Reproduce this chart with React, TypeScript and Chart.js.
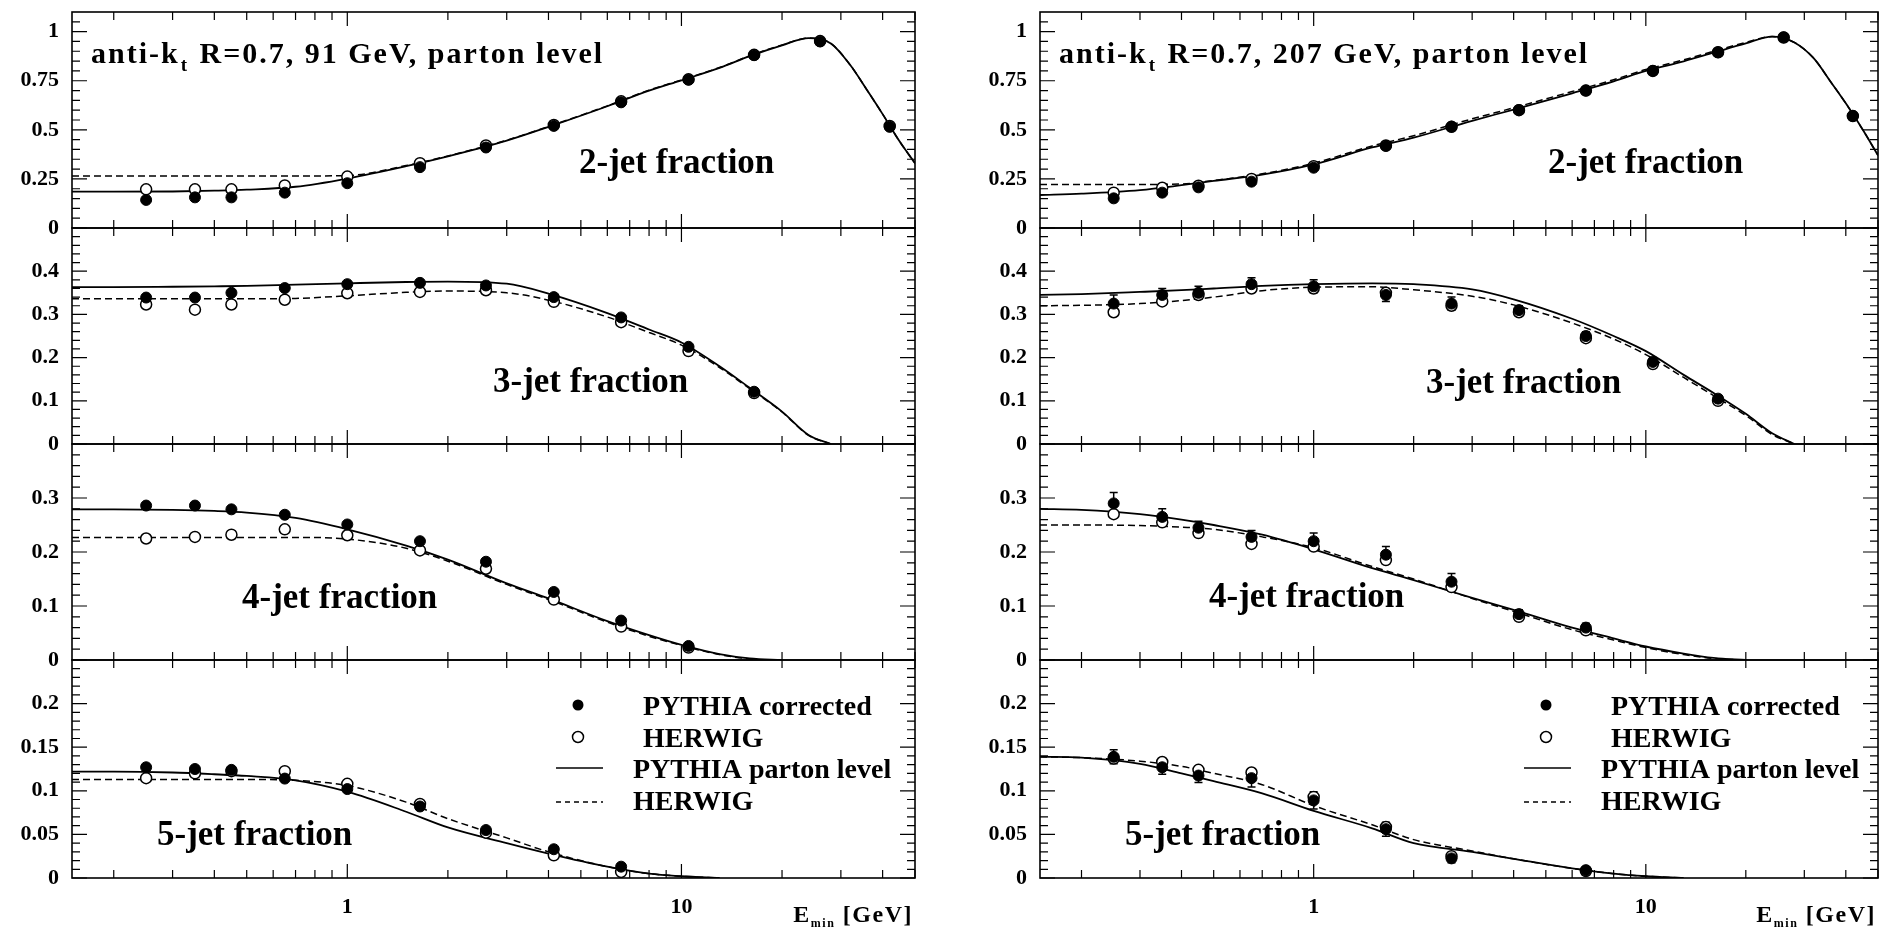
import React, { useEffect, useRef } from 'react';
import { Chart, registerables } from 'chart.js';

Chart.register(...registerables);

const SERIF = '"Liberation Serif", "DejaVu Serif", serif';

// ---------------- data ----------------
// E_min values of the data points (GeV)
const E_MIN = [0.25, 0.35, 0.45, 0.65, 1.0, 1.65, 2.6, 4.15, 6.6, 10.5, 16.5, 26, 42];
// E_min values at which the model curves are read
const CURVE_E = [0.15, 0.2, 0.3, 0.4, 0.5, 0.7, 1, 1.5, 2, 3, 4, 6, 8, 10, 13, 16, 20, 24, 28, 32, 36, 40, 45, 50];

// 91 GeV : points (PYTHIA corrected, HERWIG)
const P2_91 = [0.143, 0.156, 0.156, 0.18, 0.228, 0.31, 0.41, 0.52, 0.64, 0.755, 0.88, 0.95, 0.515];
const H2_91 = [0.197, 0.197, 0.197, 0.217, 0.262, 0.33, 0.42, 0.525, 0.645, 0.757, 0.882, 0.952, 0.52];
const P3_91 = [0.339, 0.339, 0.35, 0.361, 0.37, 0.373, 0.367, 0.34, 0.293, 0.225, 0.121];
const H3_91 = [0.323, 0.311, 0.323, 0.334, 0.349, 0.352, 0.356, 0.329, 0.282, 0.215, 0.118];
const P4_91 = [0.286, 0.286, 0.279, 0.269, 0.251, 0.22, 0.182, 0.126, 0.073, 0.026];
const H4_91 = [0.225, 0.228, 0.232, 0.242, 0.231, 0.203, 0.169, 0.112, 0.062, 0.023];
const P5_91 = [0.127, 0.125, 0.124, 0.114, 0.102, 0.082, 0.055, 0.033, 0.013];
const H5_91 = [0.1145, 0.12, 0.1225, 0.1225, 0.108, 0.085, 0.052, 0.026, 0.007];

// 91 GeV : curves (PYTHIA parton level, HERWIG) on CURVE_E
const L2P_91 = [0.185, 0.185, 0.186, 0.19, 0.195, 0.21, 0.252, 0.315, 0.365, 0.445, 0.515, 0.62, 0.7, 0.752, 0.815, 0.875, 0.93, 0.967, 0.94, 0.83, 0.7, 0.58, 0.44, 0.33];
const L2H_91 = [0.265, 0.265, 0.265, 0.265, 0.265, 0.265, 0.267, 0.318, 0.367, 0.447, 0.517, 0.622, 0.702, 0.754, 0.817, 0.877, 0.932, 0.967, 0.94, 0.83, 0.7, 0.58, 0.44, 0.33];
const L3P_91 = [0.363, 0.363, 0.364, 0.365, 0.366, 0.369, 0.372, 0.375, 0.376, 0.371, 0.348, 0.303, 0.265, 0.235, 0.18, 0.13, 0.075, 0.021, 0];
const L3H_91 = [0.336, 0.336, 0.336, 0.336, 0.336, 0.337, 0.343, 0.351, 0.354, 0.35, 0.333, 0.294, 0.258, 0.229, 0.177, 0.128, 0.074, 0.02, 0];
const L4P_91 = [0.279, 0.279, 0.278, 0.276, 0.273, 0.263, 0.242, 0.212, 0.186, 0.142, 0.114, 0.072, 0.046, 0.028, 0.011, 0.003, 0];
const L4H_91 = [0.227, 0.227, 0.227, 0.227, 0.227, 0.227, 0.224, 0.207, 0.183, 0.14, 0.112, 0.07, 0.044, 0.027, 0.01, 0.002, 0];
const L5P_91 = [0.122, 0.122, 0.121, 0.119, 0.117, 0.112, 0.099, 0.076, 0.058, 0.04, 0.028, 0.013, 0.005, 0.002, 0];
const L5H_91 = [0.113, 0.113, 0.113, 0.113, 0.113, 0.112, 0.106, 0.087, 0.068, 0.046, 0.03, 0.013, 0.005, 0.002, 0];

// 207 GeV : points
const P2_207 = [0.151, 0.18, 0.207, 0.236, 0.307, 0.418, 0.516, 0.601, 0.7, 0.8, 0.895, 0.971, 0.571];
const H2_207 = [0.18, 0.205, 0.215, 0.25, 0.315, 0.42, 0.515, 0.6, 0.7, 0.8, 0.895, 0.97, 0.57];
const P3_207 = [0.325, 0.345, 0.35, 0.37, 0.365, 0.345, 0.325, 0.31, 0.25, 0.19, 0.105];
const H3_207 = [0.305, 0.33, 0.345, 0.36, 0.36, 0.35, 0.32, 0.305, 0.245, 0.185, 0.1];
const P4_207 = [0.29, 0.265, 0.245, 0.228, 0.22, 0.195, 0.145, 0.085, 0.06];
const H4_207 = [0.27, 0.255, 0.235, 0.215, 0.21, 0.185, 0.135, 0.08, 0.055];
const P5_207 = [0.139, 0.127, 0.1175, 0.1145, 0.089, 0.056, 0.0225, null, 0.009];
const H5_207 = [0.137, 0.133, 0.124, 0.121, 0.093, 0.0585, 0.025, null, 0.008];

// 207 GeV : error bars of PYTHIA corrected points
const E2_207 = [0.01, 0.01, 0.01, 0.01, 0.01, 0.01, 0.01, 0.01, 0.01, 0.01, 0.01, 0.01, 0.01];
const E3_207 = [0.02, 0.015, 0.015, 0.015, 0.015, 0.015, 0.015, 0.01, 0.01, 0.01, 0.008];
const E4_207 = [0.02, 0.015, 0.012, 0.012, 0.015, 0.015, 0.015, 0.008, 0.008];
const E5_207 = [0.008, 0.008, 0.008, 0.01, 0.01, 0.008, 0.005, 0, 0.003];

// 207 GeV : curves
const L2P_207 = [0.168, 0.175, 0.193, 0.218, 0.24, 0.272, 0.324, 0.41, 0.46, 0.546, 0.603, 0.686, 0.747, 0.8, 0.849, 0.893, 0.94, 0.975, 0.945, 0.865, 0.745, 0.635, 0.5, 0.37];
const L2H_207 = [0.222, 0.222, 0.222, 0.224, 0.242, 0.276, 0.33, 0.418, 0.47, 0.556, 0.612, 0.695, 0.755, 0.807, 0.856, 0.9, 0.945, 0.975, 0.945, 0.865, 0.745, 0.635, 0.5, 0.37];
const L3P_207 = [0.345, 0.347, 0.352, 0.356, 0.36, 0.366, 0.37, 0.372, 0.37, 0.358, 0.335, 0.29, 0.25, 0.215, 0.16, 0.118, 0.07, 0.025, 0];
const L3H_207 = [0.32, 0.321, 0.325, 0.332, 0.34, 0.355, 0.363, 0.364, 0.357, 0.342, 0.322, 0.28, 0.243, 0.207, 0.154, 0.112, 0.066, 0.022, 0];
const L4P_207 = [0.28, 0.278, 0.27, 0.26, 0.25, 0.232, 0.205, 0.17, 0.148, 0.115, 0.093, 0.06, 0.04, 0.025, 0.012, 0.004, 0];
const L4H_207 = [0.25, 0.25, 0.249, 0.246, 0.242, 0.228, 0.208, 0.173, 0.15, 0.114, 0.09, 0.056, 0.037, 0.023, 0.01, 0.003, 0];
const L5P_207 = [0.139, 0.138, 0.131, 0.12, 0.111, 0.097, 0.077, 0.057, 0.04, 0.03, 0.022, 0.011, 0.005, 0.002, 0];
const L5H_207 = [0.139, 0.138, 0.134, 0.128, 0.12, 0.107, 0.083, 0.061, 0.044, 0.031, 0.022, 0.011, 0.005, 0.002, 0];

// ---------------- text / ticks ----------------
const TITLE_ENERGY = ['91 GeV', '207 GeV'];
const PANEL_LABELS = ['2-jet fraction', '3-jet fraction', '4-jet fraction', '5-jet fraction'];
const LEGEND_LABELS = ['PYTHIA corrected', 'HERWIG', 'PYTHIA parton level', 'HERWIG'];

const X_MIN = 0.15;
const X_MAX = 50;
const X_MAJOR = [1, 10];
const X_LABELS = ['1', '10'];
const X_MINOR = [0.2, 0.3, 0.4, 0.5, 0.6, 0.7, 0.8, 0.9, 2, 3, 4, 5, 6, 7, 8, 9, 20, 30, 40, 50];

const Y_MAX = [1.1, 0.5, 0.4, 0.25];
const Y_MAJOR = [
  [0, 0.25, 0.5, 0.75, 1],
  [0, 0.1, 0.2, 0.3, 0.4],
  [0, 0.1, 0.2, 0.3],
  [0, 0.05, 0.1, 0.15, 0.2],
];
const Y_LABELS = [
  ['0', '0.25', '0.5', '0.75', '1'],
  ['0', '0.1', '0.2', '0.3', '0.4'],
  ['0', '0.1', '0.2', '0.3'],
  ['0', '0.05', '0.1', '0.15', '0.2'],
];
const Y_MINOR_STEP = [0.05, 0.02, 0.02, 0.01];

// table assembled from the arrays above
const TABLE: any[][] = [
  [
    { pts: P2_91, her: H2_91, lp: L2P_91, lh: L2H_91, err: null },
    { pts: P3_91, her: H3_91, lp: L3P_91, lh: L3H_91, err: null },
    { pts: P4_91, her: H4_91, lp: L4P_91, lh: L4H_91, err: null },
    { pts: P5_91, her: H5_91, lp: L5P_91, lh: L5H_91, err: null },
  ],
  [
    { pts: P2_207, her: H2_207, lp: L2P_207, lh: L2H_207, err: E2_207 },
    { pts: P3_207, her: H3_207, lp: L3P_207, lh: L3H_207, err: E3_207 },
    { pts: P4_207, her: H4_207, lp: L4P_207, lh: L4H_207, err: E4_207 },
    { pts: P5_207, her: H5_207, lp: L5P_207, lh: L5H_207, err: E5_207 },
  ],
];

// ---------------- layout ----------------
const W = 1885;
const H = 930;
const COL_LEFT = [72, 1040];
const COL_RIGHT = [915, 1880];
const CANVAS_LEFT = [0, 958];
const CANVAS_RIGHT = [930, 1885];
const ROW_TOP = [12, 228, 444, 660];
const ROW_BOTTOM = [228, 444, 660, 878];
const LABEL_POS = [
  [[507, 161], [421, 164], [170, 164], [85, 185]],
  [[508, 161], [386, 165], [169, 163], [85, 185]],
];

function makeDecor(col: number, row: number, err: number[] | null) {
  return {
    id: 'decor',
    beforeDatasetsDraw(chart: any) {
      if (!err) return;
      const { ctx } = chart;
      const xs = chart.scales.x;
      const ys = chart.scales.y;
      const data = chart.data.datasets[0].data;
      ctx.save();
      ctx.strokeStyle = '#000';
      ctx.lineWidth = 1.5;
      data.forEach((p: any, i: number) => {
        const e = err[i] || 0;
        if (p.y == null || !e) return;
        const px = xs.getPixelForValue(p.x);
        const y1 = ys.getPixelForValue(p.y - e);
        const y2 = ys.getPixelForValue(p.y + e);
        ctx.beginPath();
        ctx.moveTo(px, y1);
        ctx.lineTo(px, y2);
        ctx.moveTo(px - 4, y1);
        ctx.lineTo(px + 4, y1);
        ctx.moveTo(px - 4, y2);
        ctx.lineTo(px + 4, y2);
        ctx.stroke();
      });
      ctx.restore();
    },
    afterDraw(chart: any) {
      const { ctx, chartArea: a } = chart;
      const xs = chart.scales.x;
      const ys = chart.scales.y;
      ctx.save();
      ctx.strokeStyle = '#000';
      ctx.fillStyle = '#000';
      ctx.lineWidth = 1.6;
      ctx.strokeRect(a.left, a.top, a.right - a.left, a.bottom - a.top);
      ctx.lineWidth = 1.2;
      ctx.beginPath();
      // x ticks (top and bottom, inward)
      const xt = (v: number, len: number) => {
        const px = xs.getPixelForValue(v);
        ctx.moveTo(px, a.bottom);
        ctx.lineTo(px, a.bottom - len);
        ctx.moveTo(px, a.top);
        ctx.lineTo(px, a.top + len);
      };
      X_MINOR.forEach((v) => xt(v, 8));
      X_MAJOR.forEach((v) => xt(v, 14));
      // y ticks (left and right, inward)
      const yt = (v: number, len: number) => {
        const py = ys.getPixelForValue(v);
        ctx.moveTo(a.left, py);
        ctx.lineTo(a.left + len, py);
        ctx.moveTo(a.right, py);
        ctx.lineTo(a.right - len, py);
      };
      const step = Y_MINOR_STEP[row];
      const n = Math.round(Y_MAX[row] / step);
      for (let k = 1; k < n; k++) yt(k * step, 8);
      Y_MAJOR[row].forEach((v) => yt(v, 15));
      ctx.stroke();

      ctx.textBaseline = 'alphabetic';
      ctx.textAlign = 'left';
      // title
      if (row === 0) {
        const big = `bold 30px ${SERIF}`;
        let x = a.left + 19;
        const y = a.top + 51;
        (ctx as any).letterSpacing = '2px';
        ctx.font = big;
        ctx.fillText('anti-k', x, y);
        x += ctx.measureText('anti-k').width;
        ctx.font = `bold 19px ${SERIF}`;
        ctx.fillText('t', x + 1, y + 8);
        x += ctx.measureText('t').width + 2;
        ctx.font = big;
        ctx.fillText(` R=0.7, ${TITLE_ENERGY[col]}, parton level`, x, y);
        (ctx as any).letterSpacing = '0px';
      }
      // panel label
      ctx.font = `bold 35px ${SERIF}`;
      const [lx, ly] = LABEL_POS[col][row];
      ctx.fillText(PANEL_LABELS[row], a.left + lx, a.top + ly);

      if (row === 3) {
        // legend
        const L = a.left;
        const T = a.top;
        const ds = chart.data.datasets;
        ctx.beginPath();
        ctx.arc(L + 506, T + 45, 5.5, 0, Math.PI * 2);
        ctx.fill();
        ctx.beginPath();
        ctx.lineWidth = 1.5;
        ctx.arc(L + 506, T + 77, 5.5, 0, Math.PI * 2);
        ctx.stroke();
        ctx.beginPath();
        ctx.lineWidth = 1.5;
        ctx.moveTo(L + 484, T + 108);
        ctx.lineTo(L + 531, T + 108);
        ctx.stroke();
        ctx.setLineDash([5, 4]);
        ctx.beginPath();
        ctx.moveTo(L + 484, T + 142);
        ctx.lineTo(L + 531, T + 142);
        ctx.stroke();
        ctx.setLineDash([]);
        ctx.font = `bold 28px ${SERIF}`;
        ctx.fillText(ds[0].label, L + 571, T + 55);
        ctx.fillText(ds[1].label, L + 571, T + 87);
        ctx.fillText(ds[2].label, L + 561, T + 118);
        ctx.fillText(ds[3].label, L + 561, T + 150);

        // x axis title  E_min [GeV]
        (ctx as any).letterSpacing = '1.5px';
        const f1 = `bold 24px ${SERIF}`;
        const f2 = `bold 12px ${SERIF}`;
        ctx.font = f1;
        const wE = ctx.measureText('E').width;
        const wG = ctx.measureText(' [GeV]').width;
        ctx.font = f2;
        const wM = ctx.measureText('min').width;
        let x = a.right - 2 - (wE + wM + wG);
        const yb = a.bottom + 44;
        ctx.font = f1;
        ctx.fillText('E', x, yb);
        x += wE;
        ctx.font = f2;
        ctx.fillText('min', x, yb + 5);
        x += wM;
        ctx.font = f1;
        ctx.fillText(' [GeV]', x, yb);
        (ctx as any).letterSpacing = '0px';
      }
      ctx.restore();
    },
  };
}

function Panel({ col, row }: { col: number; row: number }) {
  const ref = useRef<HTMLCanvasElement | null>(null);
  const isBottom = row === 3;
  const cLeft = CANVAS_LEFT[col];
  const cRight = CANVAS_RIGHT[col];
  const cTop = Math.max(0, ROW_TOP[row] - 20);
  const cBottom = isBottom ? H : ROW_BOTTOM[row] + 20;
  const cw = cRight - cLeft;
  const ch = cBottom - cTop;

  useEffect(() => {
    const canvas = ref.current;
    if (!canvas) return;
    const t = TABLE[col][row];
    const toXY = (arr: (number | null)[], xs: number[]) => arr.map((y, i) => ({ x: xs[i], y }));
    const datasets: any[] = [
      {
        label: LEGEND_LABELS[0],
        data: toXY(t.pts, E_MIN),
        showLine: false,
        pointRadius: 5.5,
        pointBackgroundColor: '#000',
        pointBorderColor: '#000',
        pointBorderWidth: 1,
        order: 0,
      },
      {
        label: LEGEND_LABELS[1],
        data: toXY(t.her, E_MIN),
        showLine: false,
        pointRadius: 5.5,
        pointBackgroundColor: '#fff',
        pointBorderColor: '#000',
        pointBorderWidth: 1.5,
        order: 1,
      },
      {
        label: LEGEND_LABELS[2],
        data: toXY(t.lp, CURVE_E),
        borderColor: '#000',
        borderWidth: 1.8,
        pointRadius: 0,
        cubicInterpolationMode: 'monotone',
        order: 2,
      },
      {
        label: LEGEND_LABELS[3],
        data: toXY(t.lh, CURVE_E),
        borderColor: '#000',
        borderWidth: 1.5,
        borderDash: [7, 4],
        pointRadius: 0,
        cubicInterpolationMode: 'monotone',
        order: 3,
      },
    ];
    const tickFont = { family: SERIF, size: 22, weight: 'bold' as const };
    const chart = new Chart(canvas, {
      type: 'line',
      data: { datasets },
      options: {
        responsive: false,
        animation: false,
        events: [],
        layout: {
          padding: {
            left: 0,
            top: ROW_TOP[row] - cTop,
            right: cRight - COL_RIGHT[col],
            bottom: isBottom ? 0 : cBottom - ROW_BOTTOM[row],
          },
        },
        plugins: { legend: { display: false }, tooltip: { enabled: false } },
        scales: {
          x: {
            type: 'logarithmic',
            min: X_MIN,
            max: X_MAX,
            display: isBottom,
            grid: { display: false, drawTicks: false },
            border: { display: false },
            afterBuildTicks: (s: any) => {
              s.ticks = X_MAJOR.map((v) => ({ value: v }));
            },
            ticks: {
              autoSkip: false,
              maxRotation: 0,
              padding: 16,
              color: '#000',
              font: tickFont,
              callback: (v: any) => {
                const i = X_MAJOR.indexOf(Number(v));
                return i >= 0 ? X_LABELS[i] : '';
              },
            },
            afterFit: (s: any) => {
              s.height = isBottom ? H - ROW_BOTTOM[3] : 0;
              s.paddingLeft = 0;
              s.paddingRight = 0;
            },
          },
          y: {
            type: 'linear',
            min: 0,
            max: Y_MAX[row],
            grid: { display: false, drawTicks: false },
            border: { display: false },
            afterBuildTicks: (s: any) => {
              s.ticks = Y_MAJOR[row].map((v) => ({ value: v }));
            },
            ticks: {
              padding: 13,
              color: '#000',
              font: tickFont,
              callback: (v: any) => {
                const i = Y_MAJOR[row].findIndex((m) => Math.abs(m - Number(v)) < 1e-9);
                return i >= 0 ? Y_LABELS[row][i] : '';
              },
            },
            afterFit: (s: any) => {
              s.width = COL_LEFT[col] - cLeft;
              s.paddingTop = 0;
              s.paddingBottom = 0;
            },
          },
        },
      } as any,
      plugins: [makeDecor(col, row, t.err)],
    });
    return () => chart.destroy();
  }, [col, row]);

  return (
    <canvas
      ref={ref}
      width={cw}
      height={ch}
      style={{ position: 'absolute', left: cLeft, top: cTop, width: cw, height: ch }}
    />
  );
}

export default function App() {
  const panels: any[] = [];
  for (let col = 0; col < 2; col++) {
    for (let row = 0; row < 4; row++) {
      panels.push(<Panel key={`${col}-${row}`} col={col} row={row} />);
    }
  }
  return (
    <div
      style={{
        position: 'fixed',
        left: 0,
        top: 0,
        width: W,
        height: H,
        background: '#fff',
        overflow: 'hidden',
      }}
    >
      {panels}
    </div>
  );
}
